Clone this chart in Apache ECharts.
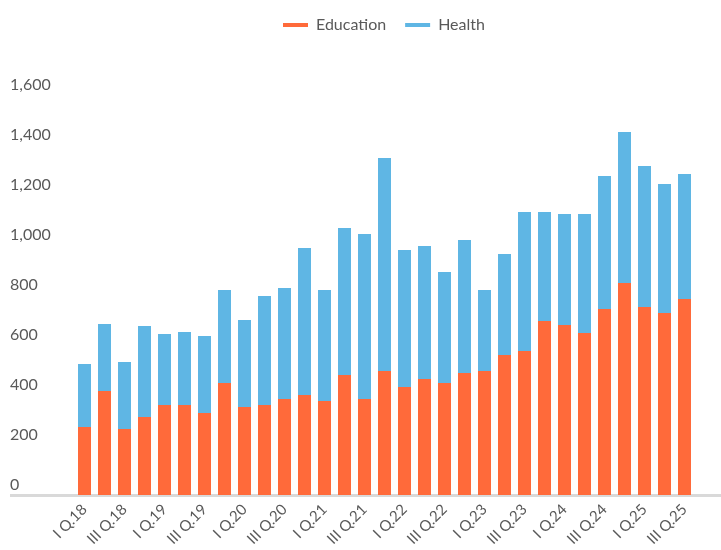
<!DOCTYPE html>
<html lang="en">

<head>
    <meta charset="UTF-8">
    <title>Education and Health</title>
    <style>
        body { margin: 0; background: #fff; }
    </style>
</head>

<body>
    <div id="main" style="width:721px;height:550px;"></div>
</body>
<script src="https://cdn.jsdelivr.net/npm/echarts@6/dist/echarts.min.js"></script>
<script>
    var quarters = [
        'I Q.18', 'II Q.18', 'III Q.18', 'IV Q.18',
        'I Q.19', 'II Q.19', 'III Q.19', 'IV Q.19',
        'I Q.20', 'II Q.20', 'III Q.20', 'IV Q.20',
        'I Q.21', 'II Q.21', 'III Q.21', 'IV Q.21',
        'I Q.22', 'II Q.22', 'III Q.22', 'IV Q.22',
        'I Q.23', 'II Q.23', 'III Q.23', 'IV Q.23',
        'I Q.24', 'II Q.24', 'III Q.24', 'IV Q.24',
        'I Q.25', 'II Q.25', 'III Q.25'
    ];
    var education = [272, 416, 264, 312, 360, 360, 328, 448, 352, 360, 384, 400, 376, 480, 384, 496,
        432, 464, 448, 488, 496, 560, 576, 696, 680, 648, 744, 848, 752, 728, 784];
    var health = [252, 268, 268, 364, 284, 292, 308, 372, 348, 436, 444, 588, 444, 588, 660, 852,
        548, 532, 444, 532, 324, 404, 556, 436, 444, 476, 532, 604, 564, 516, 500];
    var yTicks = [0, 1600, 200];

    var font = "Lato, 'Liberation Sans', sans-serif";
    var textColor = '#595959';

    var myChart = echarts.init(document.getElementById('main'));
    var option = {
        animation: false,
        color: ['#ff6a3a', '#5fb6e4'],
        legend: {
            left: 278,
            top: 12,
            icon: 'rect',
            itemWidth: 25,
            itemHeight: 4,
            itemGap: 19,
            textStyle: { fontFamily: font, fontSize: 16, color: textColor, padding: [0, 0, 0, 3] },
            data: ['Education', 'Health']
        },
        grid: { left: 74.5, right: 26.5, top: 95, bottom: 55 },
        xAxis: {
            type: 'category',
            data: quarters,
            axisLine: { show: false },
            axisTick: { show: false },
            axisLabel: {
                interval: 1,
                rotate: 45,
                margin: 12,
                fontFamily: font,
                fontSize: 15,
                color: textColor
            }
        },
        yAxis: {
            type: 'value',
            min: yTicks[0],
            max: yTicks[1],
            interval: yTicks[2],
            splitLine: { show: false },
            axisLine: { show: false },
            axisTick: { show: false },
            axisLabel: {
                align: 'left',
                verticalAlign: 'bottom',
                margin: 64.5,
                padding: [0, 0, 2, 0],
                fontFamily: font,
                fontSize: 16,
                color: textColor,
                formatter: function (v) { return v.toLocaleString('en-US'); }
            }
        },
        graphic: [{
            type: 'line',
            z: 0,
            shape: { x1: 10, y1: 495.5, x2: 721, y2: 495.5 },
            style: { stroke: '#d9d9d9', lineWidth: 3 }
        }],
        series: [{
            name: 'Education',
            type: 'bar',
            stack: 'total',
            barWidth: 13,
            data: education
        }, {
            name: 'Health',
            type: 'bar',
            stack: 'total',
            barWidth: 13,
            data: health
        }]
    };
    myChart.setOption(option);
</script>

</html>
